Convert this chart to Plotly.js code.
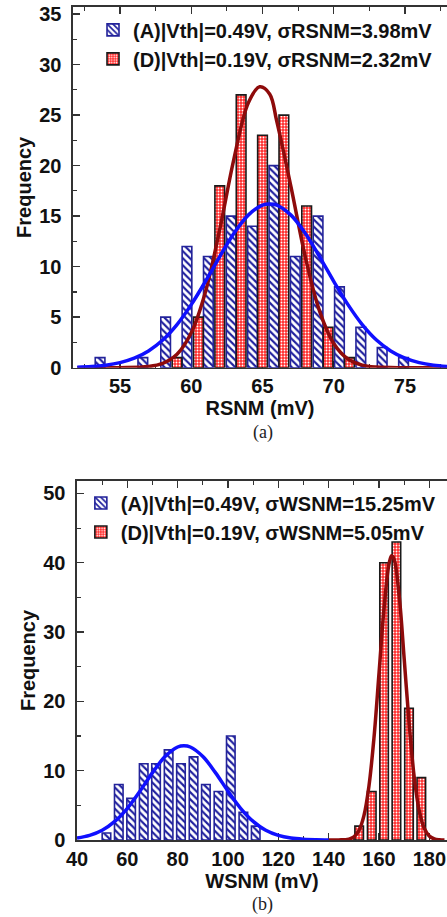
<!DOCTYPE html>
<html>
<head>
<meta charset="utf-8">
<script src="https://cdn.plot.ly/plotly-3.0.1.min.js"></script>
<style>
  html, body { margin: 0; padding: 0; background: #ffffff; }
  #chart { width: 447px; height: 917px; }
</style>
</head>
<body>
<div id="chart"></div>
<script>
// ---- (a) RSNM histograms ----
const rsnmA_x    = [53.6, 56.6, 58.2, 59.7, 61.2, 62.8, 64.3, 65.8, 67.3, 68.9, 70.4, 71.9, 73.4, 74.9];
const rsnmA_freq = [1, 1, 5, 12, 11, 15, 14, 20, 11, 15, 8, 4, 2, 1];
const rsnmD_x    = [59.0, 60.5, 62.0, 63.5, 65.0, 66.5, 68.1, 69.6, 71.1];
const rsnmD_freq = [1, 5, 18, 27, 23, 25, 16, 4, 1];

// Gaussian fit curves of (a)
const rsnmA_fitX = [52, 53, 54, 55, 56, 57, 58, 59, 60, 61, 62, 63, 64, 65, 65.5, 66, 67, 68, 69, 70, 71, 72, 73, 74, 75, 76, 77, 78];
const rsnmA_fitY = [0.05, 0.12, 0.25, 0.50, 0.94, 1.66, 2.74, 4.27, 6.24, 8.55, 11.0, 13.3, 15.1, 16.1, 16.2, 16.1, 15.1, 13.3, 11.0, 8.55, 6.24, 4.27, 2.74, 1.66, 0.94, 0.50, 0.25, 0.12];
const rsnmD_fitX = [52, 55, 57, 58, 59, 60, 61, 62, 63, 64, 64.8, 65.5, 66, 67, 68, 69, 70, 71, 72, 73, 75, 78];
const rsnmD_fitY = [0, 0, 0.11, 0.42, 1.32, 3.45, 7.52, 13.7, 20.7, 26.2, 27.8, 27.1, 24.4, 17.9, 11.0, 5.63, 2.40, 0.86, 0.25, 0.06, 0, 0];

// ---- (b) WSNM histograms ----
const wsnmA_x    = [51.7, 56.6, 61.5, 66.5, 71.4, 76.4, 81.3, 86.3, 91.2, 96.2, 101.1, 106.1, 111.0];
const wsnmA_freq = [1, 8, 6, 11, 11, 13, 11, 12, 8, 7, 15, 4, 2];
const wsnmD_x    = [152.1, 157.1, 162.0, 166.9, 171.9, 176.8];
const wsnmD_freq = [2, 7, 40, 43, 19, 9];

// Gaussian fit curves of (b)
const wsnmA_fitX = [40, 45, 50, 55, 60, 65, 70, 75, 80, 82.5, 85, 90, 95, 100, 105, 110, 115, 120, 125, 130, 135, 140];
const wsnmA_fitY = [0.28, 0.66, 1.40, 2.68, 4.58, 7.04, 9.72, 12.05, 13.42, 13.6, 13.42, 12.05, 9.72, 7.04, 4.58, 2.68, 1.40, 0.66, 0.28, 0.11, 0.04, 0.01];
const wsnmD_fitX = [140, 144, 148, 150, 152, 154, 156, 158, 160, 162, 164, 165, 166, 168, 170, 172, 174, 176, 178, 180, 182, 184, 186];
const wsnmD_fitY = [0, 0.01, 0.12, 0.44, 1.35, 3.51, 7.80, 14.8, 24.1, 33.5, 39.9, 41.0, 40.5, 35.2, 26.1, 16.6, 8.98, 4.17, 1.65, 0.56, 0.16, 0.04, 0.01];

const legendA_rsnm = '(A)|Vth|=0.49V, σRSNM=3.98mV';
const legendD_rsnm = '(D)|Vth|=0.19V, σRSNM=2.32mV';
const legendA_wsnm = '(A)|Vth|=0.49V, σWSNM=15.25mV';
const legendD_wsnm = '(D)|Vth|=0.19V, σWSNM=5.05mV';

// ---- styling ----
const FONT = '"Liberation Sans", Arial, sans-serif';
const SERIF = '"Liberation Serif", "Times New Roman", serif';
const BLUE_EDGE = '#23239a';
const BLUE_HATCH = '#1f1f9e';
const RED_FILL = '#ff2b2b';
const BLUE_FIT = '#1010ff';
const RED_FIT = '#8e0b0b';
const BAR_W_A = 0.68;   // bar width in mV, panel (a)
const BAR_W_B = 3.4;    // bar width in mV, panel (b)

function hatchBar(x, y, w, name, xa, ya, leg) {
  return {
    type: 'bar', x: x, y: y, width: w, name: name,
    xaxis: xa, yaxis: ya, legend: leg,
    marker: {
      color: '#ffffff',
      line: { color: BLUE_EDGE, width: 1.6 },
      pattern: { shape: '\\', fgcolor: BLUE_HATCH, bgcolor: '#ffffff', size: 5, solidity: 0.42 }
    },
    hoverinfo: 'skip'
  };
}
function dotBar(x, y, w, name, xa, ya, leg) {
  return {
    type: 'bar', x: x, y: y, width: w, name: name,
    xaxis: xa, yaxis: ya, legend: leg,
    marker: {
      color: RED_FILL,
      line: { color: '#1a1a1a', width: 1.6 },
      pattern: { shape: '.', fgcolor: '#ffffff', bgcolor: RED_FILL, size: 3, solidity: 0.3 }
    },
    hoverinfo: 'skip'
  };
}
function fitLine(x, y, color, xa, ya) {
  return {
    type: 'scatter', mode: 'lines', x: x, y: y,
    xaxis: xa, yaxis: ya, showlegend: false,
    line: { color: color, width: 3.5, shape: 'spline', smoothing: 1 },
    hoverinfo: 'skip'
  };
}

const traces = [
  hatchBar(rsnmA_x, rsnmA_freq, BAR_W_A, legendA_rsnm, 'x', 'y', 'legend'),
  dotBar(rsnmD_x, rsnmD_freq, BAR_W_A, legendD_rsnm, 'x', 'y', 'legend'),
  fitLine(rsnmD_fitX, rsnmD_fitY, RED_FIT, 'x', 'y'),
  fitLine(rsnmA_fitX, rsnmA_fitY, BLUE_FIT, 'x', 'y'),
  hatchBar(wsnmA_x, wsnmA_freq, BAR_W_B, legendA_wsnm, 'x2', 'y2', 'legend2'),
  dotBar(wsnmD_x, wsnmD_freq, BAR_W_B, legendD_wsnm, 'x2', 'y2', 'legend2'),
  fitLine(wsnmD_fitX, wsnmD_fitY, RED_FIT, 'x2', 'y2'),
  fitLine(wsnmA_fitX, wsnmA_fitY, BLUE_FIT, 'x2', 'y2')
];

const tickFont = { family: FONT, size: 20, color: '#111', weight: 'bold' };
const titleFont = { family: FONT, size: 20, color: '#111', weight: 'bold' };

function axisBase(extra) {
  return Object.assign({
    showline: true, linecolor: '#333', linewidth: 1.6,
    ticks: 'inside', ticklen: 7, tickwidth: 1.4, tickcolor: '#333',
    showgrid: false, zeroline: false, fixedrange: true,
    tickfont: tickFont, layer: 'below traces', ticklabeloverflow: 'allow'
  }, extra);
}

const layout = {
  width: 447, height: 917,
  margin: { l: 73, r: 0, t: 7, b: 77 },
  paper_bgcolor: '#ffffff', plot_bgcolor: '#ffffff',
  barmode: 'overlay',
  showlegend: true,
  xaxis: axisBase({
    domain: [0, 1], anchor: 'y', range: [51.7, 77.95],
    tickmode: 'linear', tick0: 55, dtick: 5,
    minor: { dtick: 2.5, ticks: 'inside', ticklen: 4, tickwidth: 1.2, tickcolor: '#333' },
    mirror: 'ticks', ticklabelstandoff: 0,
    title: { text: 'RSNM (mV)', font: titleFont, standoff: 5 }
  }),
  yaxis: axisBase({
    domain: [0.567, 1], anchor: 'x', range: [0, 35.7],
    tickmode: 'linear', tick0: 0, dtick: 5,
    minor: { dtick: 2.5, ticks: 'inside', ticklen: 4, tickwidth: 1.2, tickcolor: '#333' },
    ticklabelstandoff: 6,
    title: { text: 'Frequency', font: titleFont, standoff: 2 }
  }),
  xaxis2: axisBase({
    domain: [0.0107, 1], anchor: 'y2', range: [40, 187],
    tickmode: 'linear', tick0: 40, dtick: 20,
    minor: { dtick: 10, ticks: 'inside', ticklen: 4, tickwidth: 1.2, tickcolor: '#333' },
    mirror: 'ticks', ticklabelstandoff: 0,
    title: { text: 'WSNM (mV)', font: titleFont, standoff: 0 }
  }),
  yaxis2: axisBase({
    domain: [0, 0.431], anchor: 'x2', range: [0, 51.8],
    tickmode: 'linear', tick0: 0, dtick: 10,
    minor: { dtick: 5, ticks: 'inside', ticklen: 4, tickwidth: 1.2, tickcolor: '#333' },
    ticklabelstandoff: 6,
    title: { text: 'Frequency', font: titleFont, standoff: 2 }
  }),
  legend: {
    x: 0.0535, y: 0.996, xanchor: 'left', yanchor: 'top',
    bgcolor: 'rgba(0,0,0,0)', borderwidth: 0,
    font: { family: FONT, size: 20, color: '#111', weight: 'bold' },
    traceorder: 'normal', itemclick: false
  },
  legend2: {
    x: 0.021, y: 0.428, xanchor: 'left', yanchor: 'top',
    bgcolor: 'rgba(0,0,0,0)', borderwidth: 0,
    font: { family: FONT, size: 20, color: '#111', weight: 'bold' },
    traceorder: 'normal', itemclick: false
  },
  annotations: [
    { text: '(a)', xref: 'paper', yref: 'paper', x: 0.507, y: (840 - 432) / 833,
      showarrow: false, xanchor: 'center', yanchor: 'middle',
      font: { family: SERIF, size: 18, color: '#222' } },
    { text: '(b)', xref: 'paper', yref: 'paper', x: 0.507, y: (840 - 904) / 833,
      showarrow: false, xanchor: 'center', yanchor: 'middle',
      font: { family: SERIF, size: 18, color: '#222' } }
  ]
};

Plotly.newPlot('chart', traces, layout, { staticPlot: true, displayModeBar: false });
</script>
</body>
</html>
